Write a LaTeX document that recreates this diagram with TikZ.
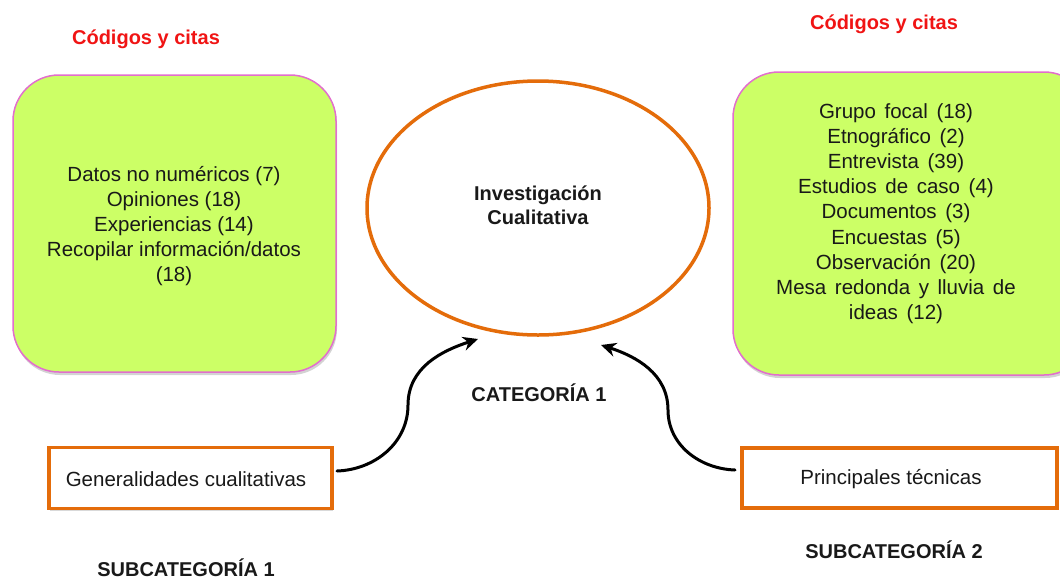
\documentclass[tikz,border=0pt]{standalone}
\usepackage{fontspec}
\setmainfont{Liberation Sans}
\usetikzlibrary{arrows.meta,shadows,shapes.geometric}
\definecolor{lime}{RGB}{204,255,102}
\definecolor{pinkline}{RGB}{226,110,205}
\definecolor{orangeline}{RGB}{228,108,10}
\definecolor{redtext}{RGB}{240,20,20}
\newcommand\mywidespace{\spaceskip=0.42em\relax}
\tikzset{
  limebox/.style={draw=pinkline, line width=1.5pt, fill=lime, rounded corners=46pt,
    drop shadow={opacity=0.35, shadow xshift=1pt, shadow yshift=-3pt}},
  subbox/.style={draw=orangeline, line width=3.5pt, fill=white,
    drop shadow={opacity=0.3, shadow xshift=1pt, shadow yshift=-2pt}},
  bodytext/.style={align=center, font=\fontsize{20.5}{25}\selectfont, text=black!90},
  widetext/.style={align=center, font=\fontsize{20.5}{25.2}\selectfont, text=black!90,
    execute at begin node=\mywidespace},
  boldtext/.style={font=\fontsize{20}{24}\selectfont\bfseries, text=black!90, align=center},
  redhead/.style={font=\fontsize{20}{24}\selectfont\bfseries, text=redtext},
  curvearrow/.style={line width=3pt, -{Stealth[length=15pt,width=14pt]}, line cap=round}
}
\begin{document}
\begin{tikzpicture}[x=1pt,y=-1pt]
\useasboundingbox (0,0) rectangle (1060,579);
% green boxes
\draw[limebox] (13,75) rectangle (336,372);
\draw[limebox] (733,72) rectangle (1090,375);
\node[bodytext] (ltext) at (174,226) {Datos no numéricos (7)\\Opiniones (18)\\Experiencias (14)\\Recopilar información/datos\\(18)};
\node[widetext] (rtext) at (896,213.5) {Grupo focal (18)\\Etnográfico (2)\\Entrevista (39)\\Estudios de caso (4)\\Documentos (3)\\Encuestas (5)\\Observación (20)\\Mesa redonda y lluvia de\\ideas (12)};
% headings
\node[redhead] (lhead) at (146,39) {Códigos y citas};
\node[redhead] (rhead) at (884,24) {Códigos y citas};
% ellipse
\node[ellipse, draw=orangeline, line width=3.5pt, fill=white, minimum width=342pt, minimum height=254pt, inner sep=0pt] (core) at (538,208) {};
\node[boldtext] (coretext) at (538,205) {Investigación\\Cualitativa};
\node[boldtext] (cat) at (539,393) {CATEGORÍA 1};
% sub boxes
\node[subbox, minimum width=283pt, minimum height=61pt, inner sep=0pt] (gen) at (190.5,478) {};
\node[bodytext] at (186,479) {Generalidades cualitativas};
\node[subbox, minimum width=315pt, minimum height=60pt, inner sep=0pt] (tec) at (899.5,478) {};
\node[bodytext] at (891,479) {Principales técnicas};
\node[boldtext] (sub1) at (186,568) {SUBCATEGORÍA 1};
\node[boldtext] (sub2) at (894,550) {SUBCATEGORÍA 2};
% arrows
\coordinate (lstart) at (337,471);
\coordinate (lmid) at (408,405);
\coordinate (lend) at (478,339);
\coordinate (rstart) at (735,470);
\coordinate (rmid) at (668,410);
\coordinate (rend) at (601,345);
\draw[curvearrow] (lstart) to[out=2,in=-90] (lmid) to[out=90,in=198] (lend);
\draw[curvearrow] (rstart) to[out=178,in=-90] (rmid) to[out=90,in=-18] (rend);
\end{tikzpicture}
\end{document}
